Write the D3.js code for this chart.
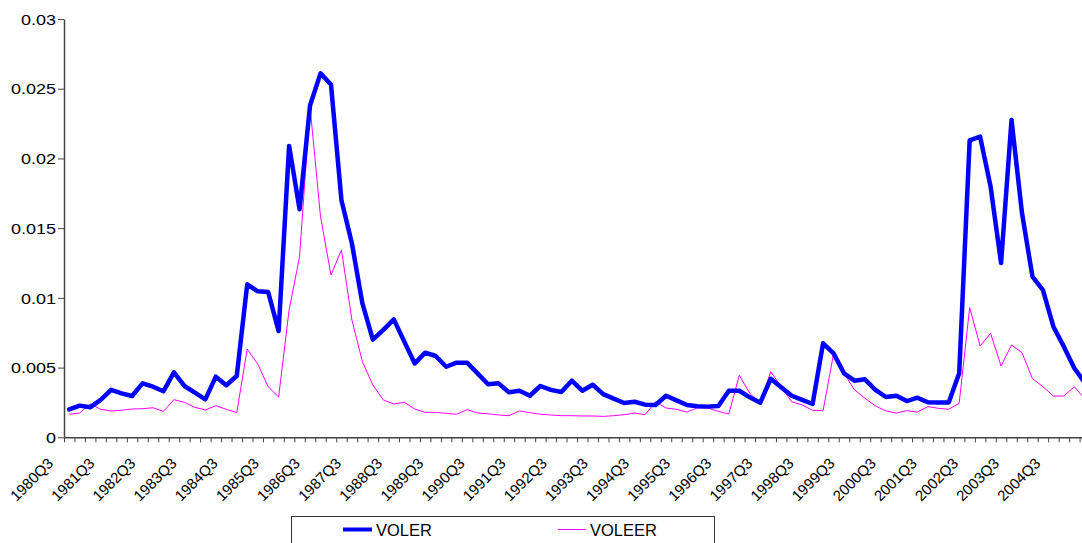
<!DOCTYPE html>
<html>
<head>
<meta charset="utf-8">
<script src="https://cdnjs.cloudflare.com/ajax/libs/d3/7.8.5/d3.min.js"></script>
<style>
  html, body { margin: 0; padding: 0; background: #ffffff; overflow: hidden; }
  svg { display: block; }
  text { font-family: "Liberation Sans", Arial, sans-serif; fill: #000; }
</style>
</head>
<body>
<svg id="chart" width="1082" height="543"></svg>
<script>
// ---- data ----
const categories = [
  "1980Q3","1980Q4","1981Q1","1981Q2","1981Q3","1981Q4","1982Q1","1982Q2",
  "1982Q3","1982Q4","1983Q1","1983Q2","1983Q3","1983Q4","1984Q1","1984Q2",
  "1984Q3","1984Q4","1985Q1","1985Q2","1985Q3","1985Q4","1986Q1","1986Q2",
  "1986Q3","1986Q4","1987Q1","1987Q2","1987Q3","1987Q4","1988Q1","1988Q2",
  "1988Q3","1988Q4","1989Q1","1989Q2","1989Q3","1989Q4","1990Q1","1990Q2",
  "1990Q3","1990Q4","1991Q1","1991Q2","1991Q3","1991Q4","1992Q1","1992Q2",
  "1992Q3","1992Q4","1993Q1","1993Q2","1993Q3","1993Q4","1994Q1","1994Q2",
  "1994Q3","1994Q4","1995Q1","1995Q2","1995Q3","1995Q4","1996Q1","1996Q2",
  "1996Q3","1996Q4","1997Q1","1997Q2","1997Q3","1997Q4","1998Q1","1998Q2",
  "1998Q3","1998Q4","1999Q1","1999Q2","1999Q3","1999Q4","2000Q1","2000Q2",
  "2000Q3","2000Q4","2001Q1","2001Q2","2001Q3","2001Q4","2002Q1","2002Q2",
  "2002Q3","2002Q4","2003Q1","2003Q2","2003Q3","2003Q4","2004Q1","2004Q2",
  "2004Q3","2004Q4"
];

const tickLabels = [
  "1980Q3","1981Q3","1982Q3","1983Q3","1984Q3","1985Q3","1986Q3","1987Q3",
  "1988Q3","1989Q3","1990Q3","1991Q3","1992Q3","1993Q3","1994Q3","1995Q3",
  "1996Q3","1997Q3","1998Q3","1999Q3","2000Q3","2001Q3","2002Q3","2003Q3","2004Q3"
];

const yTicks = [0, 0.005, 0.01, 0.015, 0.02, 0.025, 0.03];
const yTickLabels = ["0", "0.005", "0.01", "0.015", "0.02", "0.025", "0.03"];

const voler = [
  0.0020, 0.00227, 0.00215, 0.00268, 0.0034, 0.00315, 0.00296, 0.00387,
  0.00363, 0.0033, 0.00466, 0.00368, 0.0032, 0.00272, 0.00435, 0.00373,
  0.0044, 0.01097, 0.01047, 0.01042, 0.00762, 0.0209, 0.01635, 0.0238,
  0.0261, 0.0253, 0.0170, 0.0139, 0.0096, 0.0070, 0.0077, 0.00846,
  0.00686, 0.0053, 0.00607, 0.00583, 0.00506, 0.00535, 0.00535, 0.00459,
  0.0038, 0.00387, 0.00323, 0.00334, 0.00298, 0.00368, 0.0034, 0.00325,
  0.00406, 0.00334, 0.00377, 0.0031, 0.00277, 0.00246, 0.00255, 0.00234,
  0.00232, 0.00298, 0.00265, 0.00232, 0.00222, 0.0022, 0.00225, 0.00334,
  0.00334, 0.00287, 0.00248, 0.0042, 0.00359, 0.00298, 0.00268, 0.00239,
  0.00674, 0.00602, 0.00459, 0.00406, 0.00416, 0.0034, 0.00289, 0.00298,
  0.0026, 0.00284, 0.00251, 0.0025, 0.0025, 0.00459, 0.0213, 0.02156,
  0.01798, 0.0125, 0.02276, 0.01607, 0.01152, 0.01056, 0.00793, 0.0065,
  0.00495, 0.0039
];

const voleer = [
  0.00165, 0.00174, 0.00239, 0.00201, 0.00189, 0.00194, 0.00203, 0.00205,
  0.00212, 0.00186, 0.0027, 0.00251, 0.00215, 0.00196, 0.00227, 0.00201,
  0.00177, 0.00633, 0.00526, 0.00363, 0.00289, 0.00913, 0.01296, 0.02372,
  0.01583, 0.01164, 0.01344, 0.00841, 0.00542, 0.00375, 0.00268, 0.00239,
  0.00251, 0.00203, 0.00179, 0.00179, 0.00172, 0.00165, 0.00198, 0.00174,
  0.00169, 0.0016, 0.00155, 0.00189, 0.00177, 0.00165, 0.0016, 0.00155,
  0.00155, 0.00153, 0.00153, 0.0015, 0.00155, 0.00162, 0.00174, 0.00162,
  0.00255, 0.0021, 0.00201, 0.00181, 0.00212, 0.0021, 0.00186, 0.00167,
  0.00445, 0.00315, 0.00244, 0.00471, 0.00363, 0.00255, 0.00232, 0.00194,
  0.00191, 0.00598, 0.00459, 0.0034, 0.0028, 0.00225, 0.00189, 0.00174,
  0.00191, 0.00181, 0.0022, 0.00208, 0.00201, 0.00244, 0.0093, 0.00655,
  0.00746, 0.00511, 0.00662, 0.00607, 0.0042, 0.00363, 0.00296, 0.00296,
  0.00363, 0.00275
];

const seriesNames = ["VOLER", "VOLEER"];
const seriesColors = ["#0000FF", "#FF00FF"];

// ---- layout ----
const svg = d3.select("#chart");
const plotLeft = 64, plotTop = 19, plotBottom = 437.3;
const catW = 10.47;
const plotRight = plotLeft + categories.length * catW;

const x = d3.scaleBand().domain(categories).range([plotLeft, plotRight]).paddingInner(0).paddingOuter(0);
const xEdge = d3.scaleLinear().domain([0, categories.length]).range([plotLeft, plotRight]);
const y = d3.scaleLinear().domain([0, 0.03]).range([plotBottom, plotTop]);

const axisColor = "#444";

// x axis tick marks (between categories)
const xTickAxis = d3.axisBottom(xEdge)
  .tickValues(d3.range(0, categories.length + 1))
  .tickFormat("")
  .tickSize(5)
  .tickSizeOuter(0);
const gxt = svg.append("g").attr("transform", `translate(0,${plotBottom})`).call(xTickAxis);
gxt.select(".domain").attr("stroke", axisColor).attr("stroke-width", 1.5);
gxt.selectAll(".tick line").attr("stroke", axisColor).attr("stroke-width", 1);

// x axis labels
const xLabelAxis = d3.axisBottom(x)
  .tickValues(tickLabels)
  .tickSize(0)
  .tickSizeOuter(0);
const gxl = svg.append("g").attr("transform", `translate(0,${plotBottom})`).call(xLabelAxis);
gxl.select(".domain").remove();
gxl.selectAll(".tick text")
  .attr("font-size", 15)
  .attr("font-family", "Liberation Sans, Arial, sans-serif")
  .attr("text-anchor", "end")
  .attr("x", 0).attr("y", 0).attr("dy", "0")
  .attr("transform", (d, i) => `translate(${-15 - 18 * i / 24},${27}) rotate(-45)`);

// y axis
const yAxis = d3.axisLeft(y)
  .tickValues(yTicks)
  .tickFormat((d, i) => yTickLabels[i])
  .tickSize(6)
  .tickSizeOuter(0)
  .tickPadding(5);
const gy = svg.append("g").attr("transform", `translate(${plotLeft},0)`).call(yAxis);
gy.select(".domain").attr("stroke", axisColor).attr("stroke-width", 1.5);
gy.selectAll(".tick line").attr("stroke", axisColor);
gy.selectAll(".tick text")
  .attr("font-size", 15)
  .attr("font-family", "Liberation Sans, Arial, sans-serif")
  .attr("x", 0).attr("dy", "0.35em")
  .attr("transform", "translate(-8,0) scale(1.2,1)");

// lines
const line = d3.line()
  .x((d, i) => x(categories[i]) + x.bandwidth() / 2)
  .y(d => y(d));

svg.append("path").datum(voleer)
  .attr("fill", "none").attr("stroke", seriesColors[1]).attr("stroke-width", 1)
  .attr("stroke-linejoin", "round")
  .attr("d", line);

svg.append("path").datum(voler)
  .attr("fill", "none").attr("stroke", seriesColors[0]).attr("stroke-width", 4.5)
  .attr("stroke-linejoin", "round").attr("stroke-linecap", "round")
  .attr("d", line);

// legend
const lg = svg.append("g");
lg.append("rect").attr("x", 291.5).attr("y", 516.5).attr("width", 423).attr("height", 40)
  .attr("fill", "#fff").attr("stroke", "#333").attr("stroke-width", 1);
const legendItems = [
  { name: seriesNames[0], color: seriesColors[0], w: 4, x1: 343, x2: 372, tx: 376 },
  { name: seriesNames[1], color: seriesColors[1], w: 1, x1: 558, x2: 586, tx: 590 }
];
legendItems.forEach(it => {
  lg.append("line").attr("x1", it.x1).attr("x2", it.x2).attr("y1", 529.5).attr("y2", 529.5)
    .attr("stroke", it.color).attr("stroke-width", it.w);
  lg.append("text").attr("x", it.tx).attr("y", 535.5).attr("font-size", 16.5).text(it.name);
});
</script>
</body>
</html>
